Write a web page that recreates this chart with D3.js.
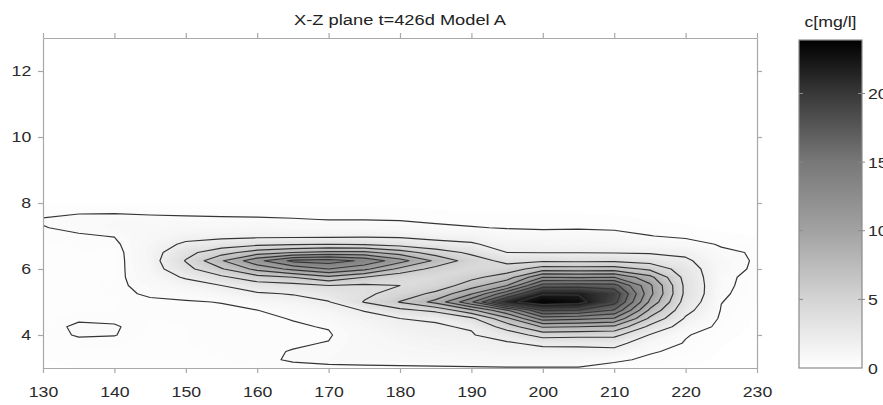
<!DOCTYPE html>
<html>
<head>
<meta charset="utf-8">
<title>X-Z plane t=426d Model A</title>
<script src="https://d3js.org/d3.v7.min.js"></script>
<style>
  body { margin: 0; background: #fff; }
  svg { display: block; font-family: "Liberation Sans", Arial, sans-serif; }
  .axis text { font-size: 15px; fill: #2a2a2a; }
  .axis path, .axis line { stroke: #a8a8a8; stroke-width: 1.2; }
</style>
</head>
<body>
<script>
// grid of the concentration field
var xGrid = [130,135,140,145,150,155,160,165,170,175,180,185,190,195,200,205,210,215,220,225,230];
var zGrid = [3.0,3.25,3.5,3.75,4.0,4.25,4.5,4.75,5.0,5.25,5.5,5.75,6.0,6.25,6.5,6.75,7.0,7.25,7.5,7.75,8.0];
// one row per z value (bottom to top), one column per x value
var conc = [
  [0.08,0.10,0.15,0.15,0.20,0.25,0.30,0.35,0.35,0.36,0.38,0.40,0.42,0.45,0.45,0.45,0.30,0.25,0.10,0.03,0.00],
  [0.10,0.15,0.20,0.18,0.25,0.30,0.38,0.56,0.70,0.75,0.80,0.85,0.90,0.95,0.95,0.90,0.60,0.40,0.20,0.05,0.00],
  [0.15,0.20,0.25,0.20,0.28,0.32,0.42,0.52,0.65,0.80,0.95,1.10,1.20,1.40,1.40,1.50,1.50,0.55,0.38,0.08,0.00],
  [0.20,0.35,0.35,0.22,0.30,0.32,0.40,0.45,0.52,0.85,1.10,1.35,1.50,1.80,2.40,2.40,2.60,0.95,0.45,0.12,0.00],
  [0.30,0.55,0.52,0.25,0.30,0.32,0.38,0.40,0.45,0.90,1.30,1.60,1.90,2.80,4.80,4.60,4.50,1.90,0.55,0.20,0.02],
  [0.30,0.60,0.55,0.28,0.30,0.35,0.40,0.45,0.53,1.10,1.60,1.90,2.10,4.90,8.20,8.00,7.60,3.50,1.10,0.28,0.04],
  [0.25,0.42,0.40,0.30,0.32,0.38,0.42,0.52,0.80,1.40,2.00,2.10,3.60,7.50,13.0,12.5,11.8,5.60,1.80,0.36,0.06],
  [0.20,0.28,0.30,0.33,0.35,0.40,0.49,0.85,1.20,2.10,3.50,4.50,7.50,11.8,18.3,18.0,15.8,7.60,2.50,0.44,0.08],
  [0.20,0.25,0.30,0.38,0.45,0.52,0.90,1.30,1.90,4.10,6.10,8.60,13.7,21.3,23.7,23.0,18.8,9.60,3.10,0.52,0.10],
  [0.20,0.25,0.32,0.60,0.70,1.10,1.80,2.10,2.90,3.60,4.80,6.50,9.80,15.5,21.8,21.8,19.5,10.6,3.50,0.62,0.15],
  [0.20,0.25,0.34,0.75,1.20,2.00,3.00,3.30,4.00,3.70,4.00,4.80,7.00,10.0,16.9,17.0,16.8,10.4,3.50,0.68,0.20],
  [0.20,0.25,0.30,0.95,2.20,3.60,5.20,6.00,7.50,6.00,4.60,4.20,5.50,7.00,12.0,11.8,12.0,8.60,3.30,0.70,0.25],
  [0.20,0.25,0.25,1.10,3.40,5.80,8.60,10.5,12.0,10.5,7.50,5.30,4.30,5.00,7.00,6.90,7.00,5.60,2.90,0.80,0.38],
  [0.20,0.25,0.22,1.20,4.10,7.80,11.4,14.5,15.0,13.6,10.8,7.60,5.00,3.40,3.70,3.60,3.60,3.20,2.30,0.80,0.42],
  [0.20,0.28,0.25,1.20,3.40,5.20,7.00,8.00,8.50,8.50,7.00,5.00,3.60,2.00,1.95,1.95,1.90,1.80,1.60,0.65,0.42],
  [0.25,0.35,0.38,1.10,2.30,2.90,3.50,3.80,4.00,3.80,3.20,2.60,2.20,1.35,1.30,1.30,1.20,1.00,0.85,0.42,0.30],
  [0.35,0.45,0.52,0.95,1.40,1.50,1.60,1.60,1.60,1.70,1.70,1.40,1.30,0.90,0.85,0.90,0.85,0.52,0.35,0.15,0.10],
  [0.48,0.60,0.75,0.85,0.95,0.95,0.95,0.90,0.90,0.90,0.80,0.70,0.55,0.45,0.40,0.42,0.35,0.25,0.15,0.05,0.03],
  [0.55,0.70,0.70,0.68,0.65,0.62,0.60,0.55,0.48,0.48,0.45,0.30,0.25,0.22,0.20,0.20,0.15,0.10,0.05,0.02,0.00],
  [0.30,0.40,0.42,0.35,0.30,0.28,0.25,0.22,0.20,0.18,0.15,0.12,0.08,0.08,0.08,0.07,0.06,0.03,0.00,0.00,0.00],
  [0.05,0.05,0.05,0.05,0.05,0.05,0.05,0.05,0.05,0.05,0.05,0.03,0.02,0.02,0.02,0.02,0.02,0.00,0.00,0.00,0.00]
];
var levels = [0.5,2,4,6,8,10,12,14,16,18,20,22];
var xTicks = [130,140,150,160,170,180,190,200,210,220,230];
var zTicks = [4,6,8,10,12];
var cbTicks = [0,5,10,15,20];
var cMax = 23.9;
var titleText = "X-Z plane t=426d Model A";
var unitText = "c[mg/l]";

var width = 883, height = 405;
var plot = {left: 43, right: 757, top: 38, bottom: 368};
var bar = {left: 799, right: 862, top: 40, bottom: 368};
var stretch = "scale(1.18,1)";

var svg = d3.select("body").append("svg")
  .attr("width", width)
  .attr("height", height);

var x = d3.scaleLinear().domain([130, 230]).range([plot.left, plot.right]);
var y = d3.scaleLinear().domain([3, 13]).range([plot.bottom, plot.top]);

// gray map
var gray = d3.scaleLinear()
  .domain([0, 2, 5, 10, 15, 20, cMax])
  .range(["#ffffff", "#eeeeee", "#d4d4d4", "#a2a2a2", "#787878", "#383838", "#000000"])
  .clamp(true);

var nx = xGrid.length, nz = zGrid.length;
var dxStep = xGrid[1] - xGrid[0], dzStep = zGrid[1] - zGrid[0];
var values = [].concat.apply([], conc);

var toPx = d3.geoTransform({
  point: function(i, j) {
    this.stream.point(x(xGrid[0] + (i - 0.5) * dxStep), y(zGrid[0] + (j - 0.5) * dzStep));
  }
});
var path = d3.geoPath(toPx);

svg.append("clipPath").attr("id", "clip")
  .append("rect")
  .attr("x", plot.left).attr("y", plot.top)
  .attr("width", plot.right - plot.left).attr("height", plot.bottom - plot.top);

var g = svg.append("g").attr("clip-path", "url(#clip)");

// shading
var step = 0.2;
var shadeLevels = d3.range(0.1, cMax, step);
g.selectAll("path.shade")
  .data(d3.contours().size([nx, nz]).thresholds(shadeLevels)(values))
  .enter().append("path")
  .attr("class", "shade")
  .attr("d", path)
  .attr("fill", function(d) { return gray(d.value + step / 2); })
  .attr("stroke", "none");

// contour lines
g.selectAll("path.iso")
  .data(d3.contours().size([nx, nz]).thresholds(levels)(values))
  .enter().append("path")
  .attr("class", "iso")
  .attr("d", path)
  .attr("fill", "none")
  .attr("stroke", "#353535")
  .attr("stroke-width", 1.2)
  .attr("stroke-linejoin", "round");

// axes
var bottom = svg.append("g").attr("class", "axis")
  .attr("transform", "translate(0," + plot.bottom + ")")
  .call(d3.axisBottom(x).tickValues(xTicks).tickSize(5).tickSizeOuter(0).tickPadding(13));
var left = svg.append("g").attr("class", "axis")
  .attr("transform", "translate(" + plot.left + ",0)")
  .call(d3.axisLeft(y).tickValues(zTicks).tickSize(5).tickSizeOuter(0).tickPadding(5));
svg.append("g").attr("class", "axis")
  .attr("transform", "translate(0," + plot.top + ")")
  .call(d3.axisTop(x).tickValues(xTicks).tickSize(5).tickSizeOuter(0).tickFormat(""));
svg.append("g").attr("class", "axis")
  .attr("transform", "translate(" + plot.right + ",0)")
  .call(d3.axisRight(y).tickValues(zTicks).tickSize(5).tickSizeOuter(0).tickFormat(""));
bottom.selectAll("text").attr("transform", stretch);
left.selectAll("text").attr("transform", stretch);
svg.selectAll(".axis").attr("font-family", null).attr("font-size", null);

// title
svg.append("text")
  .attr("transform", "translate(" + (plot.left + plot.right) / 2 + ",25) " + stretch)
  .attr("text-anchor", "middle")
  .style("font-size", "15.5px")
  .style("fill", "#222")
  .text(titleText);

// colour bar
var cb = d3.scaleLinear().domain([0, cMax]).range([bar.bottom, bar.top]);
var grad = svg.append("defs").append("linearGradient")
  .attr("id", "cbar").attr("x1", 0).attr("y1", 1).attr("x2", 0).attr("y2", 0);
grad.selectAll("stop")
  .data(gray.domain())
  .enter().append("stop")
  .attr("offset", function(d) { return d / cMax; })
  .attr("stop-color", function(d) { return gray(d); });

svg.append("rect")
  .attr("x", bar.left).attr("y", bar.top)
  .attr("width", bar.right - bar.left).attr("height", bar.bottom - bar.top)
  .attr("fill", "url(#cbar)")
  .attr("stroke", "#8a8a8a").attr("stroke-width", 1.2);

var cbt = svg.append("g");
cbt.selectAll("line.l")
  .data(cbTicks.slice(1))
  .enter().append("line")
  .attr("x1", bar.left).attr("x2", bar.left + 4)
  .attr("y1", function(d) { return cb(d); }).attr("y2", function(d) { return cb(d); })
  .attr("stroke", "#8a8a8a");
cbt.selectAll("line.r")
  .data(cbTicks.slice(1))
  .enter().append("line")
  .attr("x1", bar.right - 4).attr("x2", bar.right + 3)
  .attr("y1", function(d) { return cb(d); }).attr("y2", function(d) { return cb(d); })
  .attr("stroke", "#8a8a8a");
// labels sit at the same place as in the reference, where the window cuts them
cbt.selectAll("text")
  .data(cbTicks)
  .enter().append("text")
  .attr("transform", function(d) { return "translate(868," + (cb(d) + 5.5) + ") " + stretch; })
  .style("font-size", "15px")
  .style("fill", "#2a2a2a")
  .text(function(d) { return d; });

svg.append("text")
  .attr("transform", "translate(" + (bar.left + bar.right) / 2 + ",27) " + stretch)
  .attr("text-anchor", "middle")
  .style("font-size", "15px")
  .style("fill", "#222")
  .text(unitText);
</script>
</body>
</html>
